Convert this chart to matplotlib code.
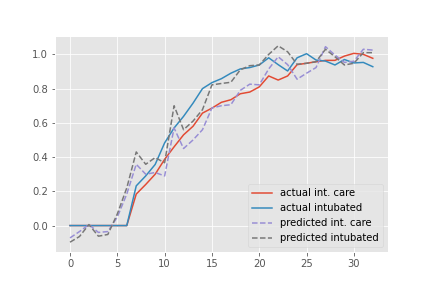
import matplotlib
matplotlib.use("Agg")
import matplotlib.pyplot as plt
import numpy as np

plt.style.use("ggplot")

days = list(range(33))
actual_int_care = [0, 0, 0, 0, 0, 0, 0, 0.184, 0.24, 0.30, 0.387, 0.46, 0.53, 0.58, 0.657, 0.686, 0.72,
                   0.735, 0.77, 0.78, 0.81, 0.874, 0.85, 0.874, 0.94, 0.948, 0.957, 0.965, 0.965, 0.99,
                   1.006, 1.0, 0.977]
actual_intubated = [0, 0, 0, 0, 0, 0, 0, 0.232, 0.29, 0.357, 0.483, 0.57, 0.638, 0.715, 0.8, 0.835, 0.858,
                    0.89, 0.915, 0.923, 0.938, 0.98, 0.94, 0.903, 0.98, 1.004, 0.967, 0.961, 0.938, 0.97,
                    0.95, 0.953, 0.928]
pred_int_care = [-0.072, -0.035, 0.006, -0.04, -0.035, 0.05, 0.184, 0.358, 0.30, 0.31, 0.29, 0.57, 0.45,
                 0.50, 0.56, 0.687, 0.70, 0.706, 0.79, 0.826, 0.822, 0.915, 0.986, 0.94, 0.855, 0.89,
                 0.923, 1.045, 0.996, 0.953, 0.96, 1.03, 1.025]
pred_intubated = [-0.097, -0.064, 0.006, -0.062, -0.052, 0.068, 0.22, 0.43, 0.358, 0.397, 0.367, 0.70,
                  0.56, 0.61, 0.677, 0.822, 0.83, 0.837, 0.91, 0.934, 0.938, 1.0, 1.05, 1.015, 0.942,
                  0.948, 0.957, 1.03, 0.986, 0.938, 0.948, 1.01, 1.01]

fig, ax = plt.subplots(figsize=(6, 4), dpi=72)
fig.subplots_adjust(left=0.127, right=0.898, top=0.875, bottom=0.125)
ax.plot(days, actual_int_care, label="actual int. care")
ax.plot(days, actual_intubated, label="actual intubated")
ax.plot(days, pred_int_care, "--", label="predicted int. care")
ax.plot(days, pred_intubated, "--", label="predicted intubated")
ax.legend(loc="lower right")
fig.savefig("out.png", dpi=72)
